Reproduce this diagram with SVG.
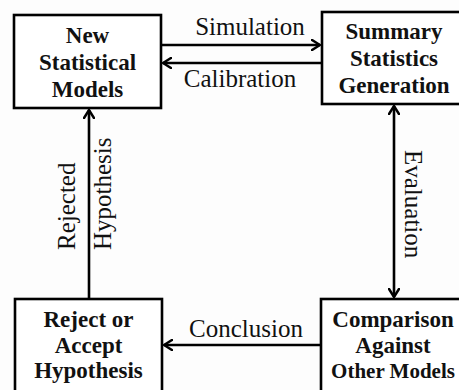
<svg xmlns="http://www.w3.org/2000/svg" width="459" height="390" viewBox="0 0 459 390">
<defs>
<marker id="ah" viewBox="0 0 10 12" refX="9" refY="6" markerWidth="10" markerHeight="12" markerUnits="userSpaceOnUse" orient="auto-start-reverse">
<path d="M1,1 L9,6 L1,11" fill="none" stroke="#000" stroke-width="2.5" stroke-linecap="round" stroke-linejoin="miter"/>
</marker>
</defs>
<style>
.box{fill:#fff;stroke:#000;stroke-width:2.6}
.t{font-family:"Liberation Serif","Times New Roman",serif;font-weight:bold;font-size:23px;text-anchor:middle;fill:#111}
.l{font-family:"Liberation Serif","Times New Roman",serif;font-size:25px;fill:#111}
.c{fill:none;stroke:#000;stroke-width:2.6}
</style>
<rect width="459" height="390" fill="#fdfdfd"/>
<g id="connectors">
<line class="c" x1="161" y1="45" x2="320" y2="45" marker-end="url(#ah)"/>
<line class="c" x1="322" y1="63" x2="163" y2="63" marker-end="url(#ah)"/>
<line class="c" x1="394" y1="106" x2="394" y2="297" marker-start="url(#ah)" marker-end="url(#ah)"/>
<line class="c" x1="321" y1="345" x2="164" y2="345" marker-end="url(#ah)"/>
<line class="c" x1="89" y1="299" x2="89" y2="110" marker-end="url(#ah)"/>
<text class="l" x="250" y="35" text-anchor="middle">Simulation</text>
<text class="l" x="240" y="87" text-anchor="middle">Calibration</text>
<text class="l" x="246" y="337" text-anchor="middle">Conclusion</text>
<text class="l" transform="translate(405,150) rotate(90)">Evaluation</text>
<text class="l" transform="translate(75,250) rotate(-90)">Rejected</text>
<text class="l" transform="translate(111,250) rotate(-90)">Hypothesis</text>
</g>
<g id="new-models">
<rect class="box" x="14" y="15" width="147" height="93"/>
<text class="t" x="87.5" y="43">New</text>
<text class="t" x="87.5" y="70">Statistical</text>
<text class="t" x="87.5" y="97">Models</text>
</g>
<g id="summary-stats">
<rect class="box" x="322" y="12" width="144" height="92"/>
<text class="t" x="394" y="39">Summary</text>
<text class="t" x="394" y="66">Statistics</text>
<text class="t" x="394" y="93">Generation</text>
</g>
<g id="reject-accept">
<rect class="box" x="15" y="299" width="147" height="100"/>
<text class="t" x="88.5" y="327">Reject or</text>
<text class="t" x="88.5" y="353">Accept</text>
<text class="t" x="88.5" y="378">Hypothesis</text>
</g>
<g id="comparison">
<rect class="box" x="321" y="299" width="145" height="100"/>
<text class="t" x="393" y="327">Comparison</text>
<text class="t" x="393" y="353">Against</text>
<text class="t" x="393" y="378" style="font-size:21px">Other Models</text>
</g>
</svg>
